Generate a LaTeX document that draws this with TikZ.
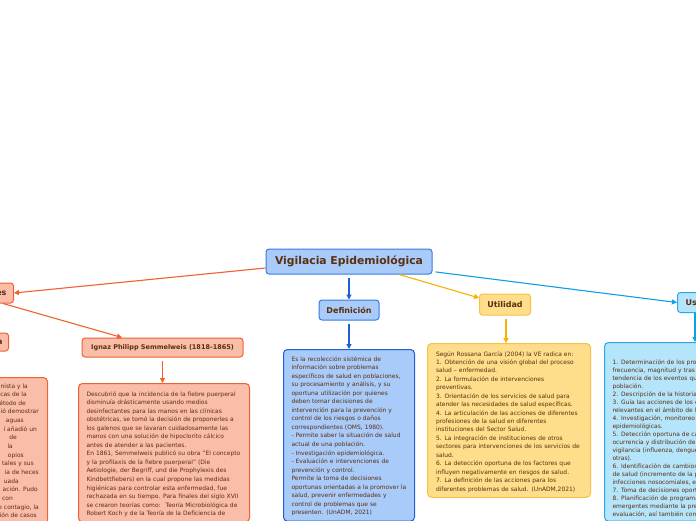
\documentclass[tikz,border=0pt]{standalone}
\usepackage{fontspec}
\setmainfont{DejaVu Sans}
\usetikzlibrary{arrows.meta,calc}
\definecolor{txt}{HTML}{5A2E0E}
\definecolor{ornfill}{HTML}{F9BDA9}\definecolor{ornline}{HTML}{F0612E}
\definecolor{blufill}{HTML}{A9CBF9}\definecolor{bluline}{HTML}{3A7BE0}\definecolor{bluarrow}{HTML}{1F5FD6}
\definecolor{yelfill}{HTML}{FEDD8B}\definecolor{yelline}{HTML}{F7C243}\definecolor{yelarrow}{HTML}{F6B400}
\definecolor{cyafill}{HTML}{B5E5FB}\definecolor{cyaline}{HTML}{29A8E6}\definecolor{cyaarrow}{HTML}{0AA0EA}
\begin{document}
\begin{tikzpicture}[x=1pt,y=-1pt,
 topic/.style={rounded corners=3pt,line width=1pt,text=txt,inner sep=0pt,font=\bfseries\fontsize{8}{9}\selectfont},
 textbox/.style={rounded corners=4pt,line width=1pt,text=txt,align=left,anchor=north west,inner xsep=8pt,inner ysep=5pt,font=\fontsize{5.95}{8.55}\selectfont},
 orn/.style={draw=ornline,fill=ornfill},blu/.style={draw=bluline,fill=blufill},
 yel/.style={draw=yelline,fill=yelfill},cya/.style={draw=cyaline,fill=cyafill},
 link/.style={line width=1.1pt,-{Triangle[length=5pt,width=5pt]}}]
\useasboundingbox (0,0) rectangle (696,520);
\clip (0,0) rectangle (696,520);
\fill[white] (0,0) rectangle (696,520);
% main topic and branches
\node[topic,blu,minimum width=166,minimum height=25,font=\bfseries\fontsize{10.8}{12}\selectfont] (root) at (349,261.5) {Vigilacia Epidemiológica};
\node[topic,orn,text width=60,align=right,inner xsep=7pt,minimum height=20,anchor=east] (ant) at (14,293) {es};
\node[topic,orn,text width=40,align=right,inner xsep=6pt,minimum height=18,anchor=east] (snow) at (9,342) {a};
\node[topic,orn,minimum width=161,minimum height=19,font=\bfseries\fontsize{6.5}{7}\selectfont] (semm) at (162.5,347.5) {Ignaz Philipp Semmelweis (1818-1865)};
\node[topic,blu,minimum width=60,minimum height=20] (def) at (349,310) {Definición};
\node[topic,yel,minimum width=51,minimum height=21] (util) at (505,304.5) {Utilidad};
\node[topic,cya,minimum width=60,minimum height=20,anchor=west,text width=46,inner xsep=8pt] (usos) at (677,302.5) {Usos};
% text boxes
\node[textbox,orn,minimum width=190,minimum height=160,anchor=north east] (snowbox) at (48,377) {};
\foreach \t/\x [count=\i] in {nista y la/28,cas de la/27,étodo de/26,ió demostrar/39,aguas/24,í añadió un/37,de/17,la/13,opios/24,tales y sus/34,ia de heces/39,uada/19,ación. Pudo/38,con/13,{e contagio, la}/39,ión de casos/37}
  \node[text=txt,inner sep=0pt,anchor=base east,font=\fontsize{5.95}{8.55}\selectfont] (sn\i) at (\x,388+\i*8.65-8.65) {\t};
\node[textbox,orn,text width=155] (semmbox) at (78,383) {\rule{0pt}{7.5pt}Descubrió que la incidencia de la fiebre puerperal\\disminuía drásticamente usando medios\\desinfectantes para las manos en las clínicas\\obstétricas, se tomó la decisión de proponerles a\\los galenos que se lavaran cuidadosamente las\\manos con una solución de hipoclorito cálcico\\antes de atender a las pacientes.\\En 1861, Semmelweis publicó su obra "El concepto\\y la profilaxis de la fiebre puerperal" (Die\\Aetiologie, der Begriff, und die Prophylexis des\\Kindbettfiebers) en la cual propone las medidas\\higiénicas para controlar esta enfermedad, fue\\rechazada en su tiempo. Para finales del siglo XVII\\se crearon teorías como:~ Teoría Microbiológica de\\Robert Koch y de la Teoría de la Deficiencia de\\};
\node[textbox,blu,text width=115,draw=bluarrow] (defbox) at (283,349) {\rule{0pt}{6.5pt}Es la recolección sistémica de\\información sobre problemas\\específicos de salud en poblaciones,\\su procesamiento y análisis, y su\\oportuna utilización por quienes\\deben tomar decisiones de\\intervención para la prevención y\\control de los riesgos o daños\\correspondientes (OMS, 1980).\\- Permite saber la situación de salud\\actual de una población.\\- Investigación epidemiológica.\\- Evaluación e intervenciones de\\prevención y control.\\Permite la toma de decisiones\\oportunas orientadas a la promover la\\salud, prevenir enfermedades y\\control de problemas que se\\presenten. (UnADM, 2021)};
\node[textbox,yel,text width=146,inner xsep=8.5pt,font=\fontsize{5.95}{8.44}\selectfont] (utilbox) at (427,343) {\rule{0pt}{7.5pt}Según Rossana García (2004) la VE radica en:\\1. Obtención de una visión global del proceso\\salud – enfermedad.\\2. La formulación de intervenciones\\preventivas.\\3. Orientación de los servicios de salud para\\atender las necesidades de salud específicas.\\4. La articulación de las acciones de diferentes\\profesiones de la salud en diferentes\\instituciones del Sector Salud.\\5. La integración de instituciones de otros\\sectores para intervenciones de los servicios de\\salud.\\6. La detección oportuna de los factores que\\influyen negativamente en riesgos de salud.\\7. La definición de las acciones para los\\diferentes problemas de salud. (UnADM,2021)};
\node[textbox,cya,text width=150,inner ysep=4pt,font=\fontsize{5.95}{8}\selectfont] (usosbox) at (604,342) {\rule{0pt}{18pt}1. Determinación de los pro\\frecuencia, magnitud y tras\\tendencia de los eventos qu\\población.\\2. Descripción de la historia\\3. Guía las acciones de los c\\relevantes en el ámbito de l\\4. Investigación, monitoreo\\epidemiológicas.\\5. Detección oportuna de ca\\ocurrencia y distribución de\\vigilancia (influenza, dengue\\otras).\\6. Identificación de cambios\\de salud (incremento de la p\\infecciones nosocomiales, e\\7. Toma de decisiones oport\\8. Planificación de programa\\emergentes mediante la pre\\evaluación, así también con\\};
% connectors
\draw[link,ornline] ($(root.north west)!0.75!(root.south west)$) -- (ant.east);
\draw[link,ornline] ($(ant.south east)+(-11,0)$) -- ($(semm.north west)!0.25!(semm.north east)$);
\draw[link,ornline] (semm.south) ++(0,3) coordinate (s1) -- (s1 |- semmbox.north);
\draw[link,bluarrow] (root.south) ++(0,3) coordinate (r1) -- (r1 |- def.north);
\draw[link,bluarrow] (def.south) ++(0,3) coordinate (d1) -- (d1 |- defbox.north);
\draw[link,yelarrow] ($(root.south west)!0.8!(root.south east)$) -- ($(util.north west)!0.2!(util.south west)$);
\draw[link,yelarrow] (util.south) ++(1,3) coordinate (u1) -- (u1 |- utilbox.north);
\draw[link,cyaarrow] ($(root.north east)!0.9!(root.south east)+(3,0)$) -- (usos.west);
\draw[link,cyaarrow] ($(usos.south west)+(18,0)$) coordinate (v1) -- (v1 |- usosbox.north);
\end{tikzpicture}
\end{document}
